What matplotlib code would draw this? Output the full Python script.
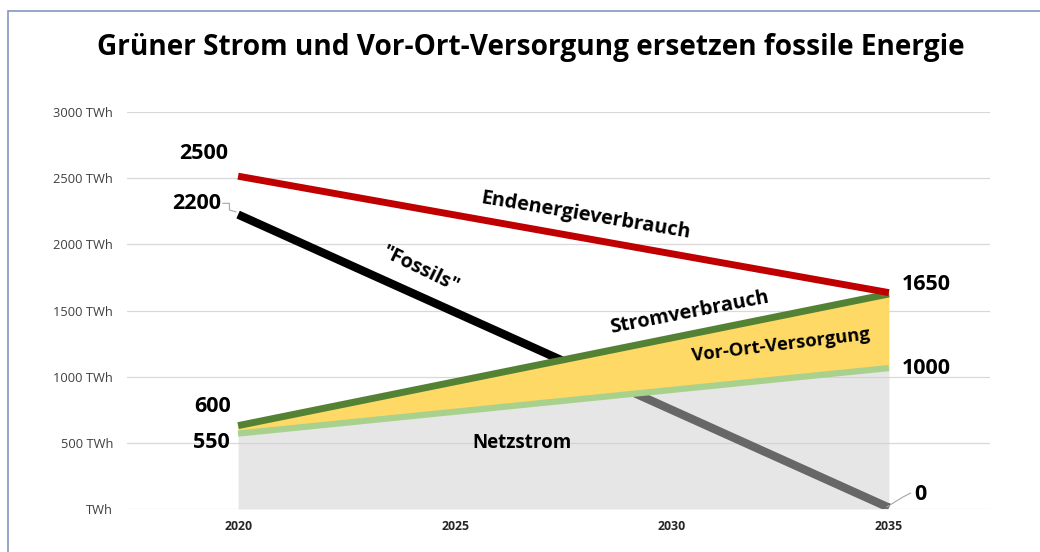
import matplotlib
matplotlib.use("Agg")
import matplotlib.pyplot as plt
from matplotlib.patches import Rectangle

plt.rcParams['font.family'] = ['Open Sans', 'DejaVu Sans']

years = [2020, 2035]
endenergie = [2515, 1635]
fossils = [2225, 10]
stromverbrauch = [630, 1625]
netzstrom = [570, 1065]

yticks = [0, 500, 1000, 1500, 2000, 2500, 3000]
ytick_labels = ["TWh", "500 TWh", "1000 TWh", "1500 TWh", "2000 TWh", "2500 TWh", "3000 TWh"]
xticks = [2020, 2025, 2030, 2035]

title = "Grüner Strom und Vor-Ort-Versorgung ersetzen fossile Energie"

fig = plt.figure(figsize=(10.4, 5.52), dpi=100)
ax = fig.add_axes([127/1040, 1-509/552, (990-127)/1040, (509-112)/552])
ax.set_xlim(2017.44, 2037.33)
ax.set_ylim(0, 3000)

# border
fig.patches.append(Rectangle((8/1040, -0.1), 1.2, 1-11/552+0.1, transform=fig.transFigure,
                             fill=False, edgecolor='#8497c0', linewidth=1.2))

# grid
for y in yticks:
    ax.axhline(y, color='#d9d9d9', linewidth=0.9, zorder=0)

# lines and areas
ax.plot(years, fossils, color='black', linewidth=6, solid_capstyle='butt', zorder=2)
ax.fill_between(years, 0, netzstrom, color='#cfcfcf', alpha=0.5, linewidth=0, zorder=3)
ax.fill_between(years, netzstrom, stromverbrauch, color='#ffd966', linewidth=0, zorder=3)
ax.plot(years, netzstrom, color='#a9d18e', linewidth=4.5, solid_capstyle='butt', zorder=4)
ax.plot(years, stromverbrauch, color='#548235', linewidth=5, solid_capstyle='butt', zorder=5)
ax.plot(years, endenergie, color='#c00000', linewidth=5, solid_capstyle='butt', zorder=5)

for s in ax.spines.values():
    s.set_visible(False)
ax.set_yticks(yticks)
ax.set_yticklabels(ytick_labels, fontsize=9.3, color='#404040')
ax.set_xticks(xticks)
ax.set_xticklabels([str(x) for x in xticks], fontsize=8.8, fontweight='bold', color='#262626')
ax.tick_params(axis='y', length=0, pad=10)
ax.tick_params(axis='x', length=0, pad=8)

# value labels
lab = dict(fontsize=15.5, fontweight='bold', color='black', zorder=6)
ax.text(2019.78, 2690, "2500", ha='right', va='center', **lab)
ax.text(2019.6, 2305, "2200", ha='right', va='center', **lab)
ax.plot([2019.65, 2019.8, 2019.8, 2019.95], [2310, 2310, 2260, 2245],
        color='#a6a6a6', linewidth=0.8, zorder=6)
ax.text(2019.84, 771, "600", ha='right', va='center', **lab)
ax.text(2019.8, 499, "550", ha='right', va='center', **lab)
ax.text(2035.3, 1693, "1650", ha='left', va='center', **lab)
ax.text(2035.3, 1058, "1000", ha='left', va='center', **lab)
ax.text(2035.58, 113, "0", ha='left', va='center', **lab)
ax.plot([2034.95, 2035.32, 2035.5], [15, 90, 120], color='#a6a6a6', linewidth=0.8, zorder=6)

# series labels
ser = dict(fontsize=14.3, fontweight='bold', color='black', ha='center', va='center', zorder=6)
ax.text(2028.0, 2215, "Endenergieverbrauch", rotation=-9.5, **ser)
ax.text(2024.2, 1810, "\"Fossils\"", rotation=-26, **ser)
ax.text(2030.4, 1480, "Stromverbrauch", rotation=11, **ser)
ax.text(2032.5, 1235, "Vor-Ort-Versorgung", rotation=7, fontsize=13.2, fontweight='bold',
        color='black', ha='center', va='center', zorder=6)
ax.text(2026.55, 500, "Netzstrom", fontsize=13.5, fontweight='bold', color='black',
        ha='center', va='center', zorder=6)

fig.text(531/1040, 1-48/552, title, ha='center', va='center', fontsize=20.2, fontweight='bold')

fig.savefig("out.png", dpi=100)
